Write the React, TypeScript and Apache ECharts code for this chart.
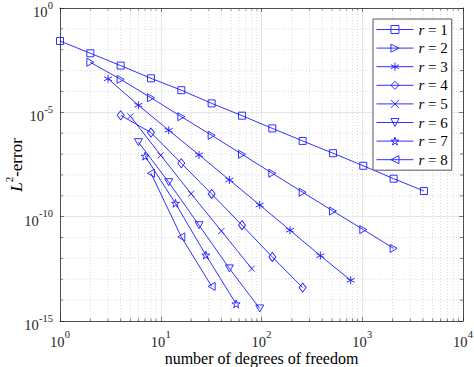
import React, { useEffect, useRef } from 'react';
import * as echarts from 'echarts';

// ---- data ----
const seriesNames = ['r = 1', 'r = 2', 'r = 3', 'r = 4', 'r = 5', 'r = 6', 'r = 7', 'r = 8'];

const dof1 = [1, 2, 4, 8, 16, 32, 64, 128, 256, 512, 1024, 2048, 4096];
const err1 = [2.63e-2, 6.76e-3, 1.74e-3, 4.27e-4, 1.15e-4, 2.69e-5, 6.92e-6, 1.70e-6, 4.27e-7, 1.10e-7, 2.75e-8, 6.61e-9, 1.70e-9];

const dof2 = [2, 4, 8, 16, 32, 64, 128, 256, 512, 1024, 2048];
const err2 = [2.51e-3, 3.80e-4, 5.01e-5, 6.17e-6, 7.94e-7, 9.77e-8, 1.20e-8, 1.48e-9, 1.86e-10, 2.40e-11, 3.02e-12];

const dof3 = [3, 6, 12, 24, 48, 96, 192, 384, 768];
const err3 = [4.07e-4, 2.19e-5, 1.38e-6, 9.12e-8, 5.75e-9, 3.63e-10, 2.24e-11, 1.35e-12, 8.91e-14];

const dof4 = [4, 8, 16, 32, 64, 128, 256];
const err4 = [7.24e-6, 1.07e-6, 3.63e-8, 1.23e-9, 3.89e-11, 1.17e-12, 3.98e-14];

const dof5 = [5, 10, 20, 40, 80];
const err5 = [6.46e-6, 8.71e-8, 1.26e-9, 2.04e-11, 3.24e-13];

const dof6 = [6, 12, 24, 48, 96];
const err6 = [3.72e-7, 4.47e-9, 3.89e-11, 3.31e-13, 3.98e-15];

const dof7 = [7, 14, 28, 56];
const err7 = [7.94e-8, 4.37e-10, 1.45e-12, 6.61e-15];

const dof8 = [8, 16, 32];
const err8 = [1.20e-8, 1.07e-11, 4.57e-14];

const allDof = [dof1, dof2, dof3, dof4, dof5, dof6, dof7, dof8];
const allErr = [err1, err2, err3, err4, err5, err6, err7, err8];

// axis ticks
const xMin = 1;
const xMax = 1e4;
const yMin = 1e-15;
const yMax = 1;
const xTickValues = [1, 10, 100, 1000, 10000];
const yTickValues = [1e-15, 1e-10, 1e-5, 1];
const xDecades = [1, 10, 100, 1000];
const xMinorMultipliers = [2, 3, 4, 5, 6, 7, 8, 9];
const yMinorDecades = [1e-14, 1e-13, 1e-12, 1e-11, 1e-9, 1e-8, 1e-7, 1e-6, 1e-4, 1e-3, 1e-2, 1e-1];

// marker shapes
const SYM_RIGHT = 'path://M0,0 L9,5 L0,10 Z';
const SYM_LEFT = 'path://M9,0 L0,5 L9,10 Z';
const SYM_DOWN = 'path://M0,0 L10,0 L5,9 Z';
const SYM_AST = 'path://M5,0 L5,10 M0.7,2.5 L9.3,7.5 M0.7,7.5 L9.3,2.5';
const SYM_X = 'path://M0,0 L10,10 M0,10 L10,0';
const SYM_STAR = 'path://M0,-10 L2.245,-3.09 L9.51,-3.09 L3.633,1.18 L5.878,8.09 L0,3.82 L-5.878,8.09 L-3.633,1.18 L-9.51,-3.09 L-2.245,-3.09 Z';
const symbols = ['rect', SYM_RIGHT, SYM_AST, 'diamond', SYM_X, SYM_DOWN, SYM_STAR, SYM_LEFT];
const symbolSizes: any[] = [7, [7, 8], 8, [7, 9], 6, [8, 7], 8, [7, 8]];

const BLUE = '#1a1aff';
const AXIS = '#262626';
const FONT = 'Liberation Serif';
const BASE_SIZE = 14.5;
const SUP_SIZE = 10.5;

let measureCtx: CanvasRenderingContext2D | null = null;
const textWidth = (t: string, size: number) => {
  if (!measureCtx) measureCtx = document.createElement('canvas').getContext('2d');
  if (!measureCtx) return t.length * size * 0.5;
  measureCtx.font = `${size}px "${FONT}"`;
  return measureCtx.measureText(t).width;
};

const expOf = (v: number) => String(Math.round(Math.log10(v)));

// a "10^e" label as two plain texts; (ax, ay) is the label's anchor
const powerLabel = (v: number, leftX: number, baseCy: number) => {
  const e = expOf(v);
  const wb = textWidth('10', BASE_SIZE);
  return {
    type: 'group',
    children: [
      {
        type: 'text', x: leftX, y: baseCy,
        style: { text: '10', fontFamily: FONT, fontSize: BASE_SIZE, fill: '#262626', align: 'left', verticalAlign: 'middle' },
      },
      {
        type: 'text', x: leftX + wb + 0.3, y: baseCy - 7,
        style: { text: e, fontFamily: FONT, fontSize: SUP_SIZE, fill: '#262626', align: 'left', verticalAlign: 'middle' },
      },
    ],
  };
};

export default function App() {
  const ref = useRef<HTMLDivElement>(null);

  useEffect(() => {
    if (!ref.current) return;
    const chart = echarts.init(ref.current, null, { renderer: 'svg' });

    const xMinor: number[] = [];
    xDecades.forEach((d) => xMinorMultipliers.forEach((m) => xMinor.push(d * m)));

    const lineSeries = seriesNames.map((name, i) => ({
      name,
      type: 'line',
      data: allDof[i].map((x, j) => [x, allErr[i][j]]),
      symbol: symbols[i],
      symbolSize: symbolSizes[i],
      showAllSymbol: true,
      clip: false,
      color: BLUE,
      lineStyle: { color: BLUE, width: 0.9 },
      itemStyle: { color: 'rgba(255,255,255,0)', borderColor: BLUE, borderWidth: 0.9 },
      z: 3,
    }));

    const minorX = {
      type: 'custom',
      name: 'minorx',
      coordinateSystem: 'cartesian2d',
      silent: true,
      z: 1,
      clip: false,
      data: xMinor.map((v) => [v, 1e-7]),
      renderItem: (_p: any, api: any) => {
        const v = api.value(0);
        const top = api.coord([v, yMax]);
        const bot = api.coord([v, yMin]);
        return {
          type: 'group',
          children: [
            { type: 'line', shape: { x1: bot[0], y1: bot[1], x2: top[0], y2: top[1] }, style: { stroke: '#c4c4c4', lineWidth: 0.6, lineDash: [1, 2] } },
            { type: 'line', shape: { x1: bot[0], y1: bot[1], x2: bot[0], y2: bot[1] - 2.5 }, style: { stroke: AXIS, lineWidth: 0.6 } },
            { type: 'line', shape: { x1: top[0], y1: top[1], x2: top[0], y2: top[1] + 2.5 }, style: { stroke: AXIS, lineWidth: 0.6 } },
          ],
        };
      },
    };

    const minorY = {
      type: 'custom',
      name: 'minory',
      coordinateSystem: 'cartesian2d',
      silent: true,
      z: 1,
      clip: false,
      data: yMinorDecades.map((v) => [10, v]),
      renderItem: (_p: any, api: any) => {
        const v = api.value(1);
        const l = api.coord([xMin, v]);
        const r = api.coord([xMax, v]);
        return {
          type: 'group',
          children: [
            { type: 'line', shape: { x1: l[0], y1: l[1], x2: r[0], y2: r[1] }, style: { stroke: '#c4c4c4', lineWidth: 0.6, lineDash: [1, 2] } },
            { type: 'line', shape: { x1: l[0], y1: l[1], x2: l[0] + 3, y2: l[1] }, style: { stroke: AXIS, lineWidth: 0.6 } },
            { type: 'line', shape: { x1: r[0], y1: r[1], x2: r[0] - 3, y2: r[1] }, style: { stroke: AXIS, lineWidth: 0.6 } },
          ],
        };
      },
    };

    const xLabels = {
      type: 'custom',
      name: 'xlabels',
      coordinateSystem: 'cartesian2d',
      silent: true,
      z: 4,
      clip: false,
      data: xTickValues.map((v) => [v, yMin]),
      renderItem: (_p: any, api: any) => {
        const v = api.value(0);
        const p = api.coord([v, yMin]);
        const w = textWidth('10', BASE_SIZE) + 0.3 + textWidth(expOf(v), SUP_SIZE);
        return powerLabel(v, p[0] - w / 2, p[1] + 20.5);
      },
    };

    const yLabels = {
      type: 'custom',
      name: 'ylabels',
      coordinateSystem: 'cartesian2d',
      silent: true,
      z: 4,
      clip: false,
      data: yTickValues.map((v) => [xMin, v]),
      renderItem: (_p: any, api: any) => {
        const v = api.value(1);
        const p = api.coord([xMin, v]);
        const w = textWidth('10', BASE_SIZE) + 0.3 + textWidth(expOf(v), SUP_SIZE);
        return powerLabel(v, p[0] - 7 - w, p[1] + 4);
      },
    };

    const axisCommon = {
      axisLine: { show: true, lineStyle: { color: AXIS, width: 0.8 } },
      axisTick: { show: true, inside: true, length: 4, lineStyle: { color: AXIS, width: 0.6 } },
      axisLabel: { show: false },
    };

    chart.setOption({
      animation: false,
      backgroundColor: '#fff',
      textStyle: { fontFamily: FONT },
      grid: { left: 60, top: 8, right: 11, bottom: 46, containLabel: false },
      xAxis: [
        {
          type: 'log', logBase: 10, min: xMin, max: xMax, interval: 1, position: 'bottom',
          ...axisCommon,
          splitLine: { show: true, lineStyle: { color: '#e0e0e0', width: 0.8 } },
        },
        {
          type: 'log', logBase: 10, min: xMin, max: xMax, interval: 1, position: 'top',
          ...axisCommon,
          splitLine: { show: false },
        },
      ],
      yAxis: [
        {
          type: 'log', logBase: 10, min: yMin, max: yMax, interval: 5, position: 'left',
          ...axisCommon,
          splitLine: { show: true, lineStyle: { color: '#e0e0e0', width: 0.8 } },
        },
        {
          type: 'log', logBase: 10, min: yMin, max: yMax, interval: 5, position: 'right',
          ...axisCommon,
          splitLine: { show: false },
        },
      ],
      legend: {
        data: seriesNames,
        orient: 'vertical',
        left: 373,
        top: 19,
        itemWidth: 37,
        itemHeight: 10,
        itemGap: 3.6,
        padding: [3, 4, 3, 3],
        borderColor: '#555',
        borderWidth: 1,
        backgroundColor: '#fff',
        itemStyle: { color: 'rgba(255,255,255,0)', borderColor: BLUE, borderWidth: 0.9 },
        lineStyle: { color: BLUE, width: 0.9 },
        formatter: (n: string) => `{i|r}{n| = ${n.slice(4)}}`,
        textStyle: {
          fontFamily: FONT,
          fontSize: 15,
          rich: {
            i: { fontFamily: FONT, fontStyle: 'italic', fontSize: 15, lineHeight: 14, color: '#000' },
            n: { fontFamily: FONT, fontSize: 15, lineHeight: 14, color: '#000' },
          },
        },
      },
      graphic: [
        {
          type: 'text',
          x: 261.5,
          y: 358,
          style: {
            text: 'number of degrees of freedom',
            fontFamily: FONT, fontSize: 16, fill: '#000',
            align: 'center', verticalAlign: 'middle',
          },
        },
        {
          type: 'text',
          x: 14,
          y: 165,
          rotation: Math.PI / 2,
          style: {
            text: '{i|L}{s|2}{n|-error}',
            align: 'center', verticalAlign: 'middle',
            rich: {
              i: { fontFamily: FONT, fontStyle: 'italic', fontSize: 17, lineHeight: 17, padding: [4, 0, 0, 0], fill: '#000' },
              s: { fontFamily: FONT, fontSize: 11, lineHeight: 11, padding: [0, 0, 10, 0], fill: '#000' },
              n: { fontFamily: FONT, fontSize: 17, lineHeight: 17, padding: [4, 0, 0, 0], fill: '#000' },
            },
          },
        },
      ],
      series: [minorX, minorY, xLabels, yLabels, ...lineSeries],
    });

    return () => chart.dispose();
  }, []);

  return <div ref={ref} style={{ width: 474, height: 367, position: 'absolute', left: 0, top: 0 }} />;
}
